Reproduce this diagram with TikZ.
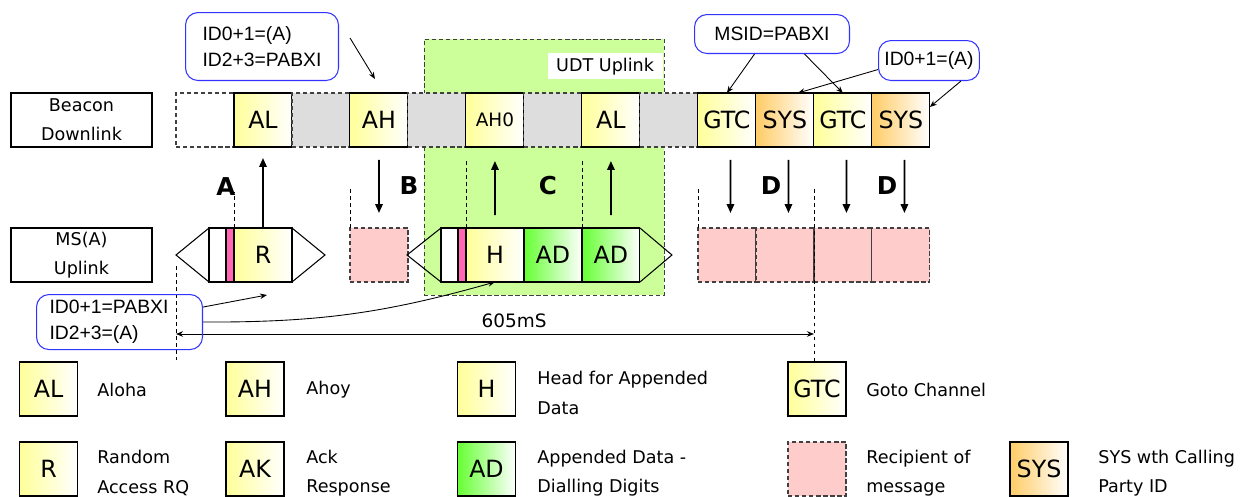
\documentclass[tikz,border=0pt]{standalone}
\usepackage{fontspec}
\setmainfont{DejaVu Sans}
\newfontfamily\notefont{Liberation Sans}
\usetikzlibrary{arrows.meta,positioning,calc}
\definecolor{slotyellow}{HTML}{FFFF99}
\definecolor{slotorange}{HTML}{FFCC66}
\definecolor{slotgreen}{HTML}{66FF33}
\definecolor{recippink}{HTML}{FFCCCC}
\definecolor{stripink}{HTML}{FF66B3}
\definecolor{gapgray}{HTML}{DDDDDD}
\definecolor{udtgreen}{HTML}{CCFF99}
\definecolor{noteblue}{HTML}{3333FF}
\definecolor{dashgray}{HTML}{404040}

\begin{document}
\begin{tikzpicture}[
    x=0.02cm, y=-0.02cm,
    every node/.style={font=\fontsize{10}{16.7}\selectfont},
    dashline/.style={dash pattern=on 2.5pt off 1.5pt},
    slot/.style={draw, line width=0.6pt, minimum width=1.16cm, minimum height=1.08cm, inner sep=0pt, outer sep=0pt, font=\fontsize{13.5}{15}\selectfont},
    slotyel/.style={slot, left color=slotyellow, right color=white},
    slotorg/.style={slot, left color=slotorange, right color=white},
    slotgrn/.style={slot, left color=slotgreen, right color=white},
    gapslot/.style={slot, draw=dashgray, dashline, fill=gapgray},
    emptyslot/.style={slot, draw=dashgray, dashline, fill=white},
    recip/.style={slot, draw=dashgray, dashline, fill=recippink},
    whitecell/.style={draw, line width=0.6pt, fill=white, minimum width=0.34cm, minimum height=1.08cm, inner sep=0pt, outer sep=0pt},
    pinkcell/.style={whitecell, fill=stripink, minimum width=0.16cm},
    pkt/.style={line width=0.6pt},
    rowlabel/.style={draw, line width=0.6pt, minimum width=2.82cm, minimum height=1.08cm, align=center, inner sep=0pt},
    zone/.style={draw=dashgray, dashline, fill=udtgreen, minimum width=4.8cm, minimum height=5.12cm, inner sep=0pt, outer sep=0pt},
    zonetag/.style={fill=white, minimum width=2.3cm, minimum height=0.52cm, inner sep=0pt, font=\fontsize{10}{12}\selectfont},
    callout/.style={draw=noteblue, line width=0.6pt, rounded corners=0.25cm, align=left, font=\notefont\fontsize{11}{14.7}\selectfont},
    letter/.style={font=\fontsize{14}{16}\selectfont\bfseries},
    legtext/.style={anchor=west, align=left, inner sep=0pt},
    sig/.style={-{Triangle[length=1.8mm,width=1.5mm]}, line width=1pt},
    note/.style={-{Stealth[length=1.4mm,width=1.1mm]}, line width=0.5pt},
    spanline/.style={{Stealth[length=1.4mm,width=1.1mm]}-{Stealth[length=1.4mm,width=1.1mm]}, line width=0.5pt},
    guide/.style={line width=0.5pt, dash pattern=on 2pt off 2pt}
]
\useasboundingbox (0,0) rectangle (1242,497);

% UDT uplink zone (behind everything)
\node[zone, anchor=north west] (udt) at (424,39) {};
\node[zonetag, anchor=north east] (udttag) at ([shift={(-1,14)}]udt.north east) {UDT Uplink};

% row labels
\node[rowlabel] (beacon) at (81.5,120) {Beacon\\Downlink};
\node[rowlabel] (msrow) at (81.5,255) {MS(A)\\Uplink};

% beacon downlink
\node[emptyslot, anchor=north west] (dl0) at (176,93) {};
\node[slotyel, right=0pt of dl0] (dlAL) {AL};
\node[gapslot, right=0pt of dlAL] (gap1) {};
\node[slotyel, right=0pt of gap1] (dlAH) {AH};
\node[gapslot, right=0pt of dlAH] (gap2) {};
\node[slotyel, right=0pt of gap2, font=\fontsize{10.5}{12}\selectfont] (dlAH0) {AH0};
\node[gapslot, right=0pt of dlAH0] (gap3) {};
\node[slotyel, right=0pt of gap3] (dlAL2) {AL};
\node[gapslot, right=0pt of dlAL2] (gap4) {};
\node[slotyel, right=0pt of gap4] (gtcA) {GTC};
\node[slotorg, right=0pt of gtcA] (sysA) {SYS};
\node[slotyel, right=0pt of sysA] (gtcB) {GTC};
\node[slotorg, right=0pt of gtcB] (sysB) {SYS};

% MS(A) uplink: random access packet
\node[whitecell, anchor=north west] (cellA) at (209,228) {};
\node[pinkcell, right=0pt of cellA] (stripA) {};
\node[slotyel, right=0pt of stripA] (rq) {R};
\draw[pkt] (cellA.north west) -- ([xshift=-0.66cm]cellA.west) coordinate (tipA) -- (cellA.south west);
\draw[pkt] (rq.north east) -- ([xshift=0.66cm]rq.east) -- (rq.south east);

% recipient of AH
\node[recip, anchor=north west] (recpB) at (350,228) {};

% head + appended data packet
\node[whitecell, anchor=north west] (cellC) at (441,228) {};
\node[pinkcell, right=0pt of cellC] (stripC) {};
\node[slotyel, right=0pt of stripC] (hd) {H};
\node[slotgrn, right=0pt of hd] (adA) {AD};
\node[slotgrn, right=0pt of adA] (adB) {AD};
\draw[pkt] (cellC.north west) -- ([xshift=-0.68cm]cellC.west) -- (cellC.south west);
\draw[pkt] (adB.north east) -- ([xshift=0.64cm]adB.east) -- (adB.south east);

% recipients of GTC / SYS
\node[recip, anchor=north west] (recpD1) at (698,228) {};
\node[recip, right=0pt of recpD1] (recpD2) {};
\node[recip, right=0pt of recpD2] (recpD3) {};
\node[recip, right=0pt of recpD3] (recpD4) {};

% guide lines
\draw[guide] (rq.north west) -- (rq.north west |- 0,192);
\draw[guide] (tipA |- 0,266) -- (tipA |- 0,360);
\draw[guide] (recpB.north west) -- (recpB.north west |- 0,187);
\draw[guide] (hd.north west) -- (hd.north west |- 0,159);
\draw[guide] (adB.north west) -- (adB.north west |- 0,159);
\draw[guide] (recpD1.north west) -- (recpD1.north west |- 0,189);
\draw[guide] (recpD3.north west |- 0,189) -- (recpD3.north west |- 0,364);

% signalling
\draw[sig, shorten >=0.22cm] (rq.north) -- (dlAL.south);
\draw[sig, shorten <=0.26cm, shorten >=0.3cm] (dlAH.south) -- (recpB.north);
\draw[sig, shorten <=0.26cm, shorten >=0.28cm] (hd.north) -- (dlAH0.south);
\draw[sig, shorten <=0.26cm, shorten >=0.28cm] (adB.north) -- (dlAL2.south);
\foreach \s/\r in {gtcA/recpD1, sysA/recpD2, gtcB/recpD3, sysB/recpD4}
  \draw[sig, shorten <=0.26cm, shorten >=0.3cm] ([xshift=2pt]\s.south) -- ([xshift=2pt]\r.north);

\node[letter] (lblA) at (226,187) {A};
\node[letter] (lblB) at (409,186) {B};
\node[letter] (lblC) at (548,186) {C};
\node[letter] (lblD1) at (771,186) {D};
\node[letter] (lblD2) at (887,186) {D};

% 605mS span
\coordinate (spanL) at (tipA |- 0,334);
\coordinate (spanR) at (recpD3.north west |- 0,334);
\draw[spanline] (spanL) -- node[pos=0.53, above=0pt, font=\fontsize{10.5}{12}\selectfont] (spanlbl) {605mS} (spanR);

% callouts
\node[callout, anchor=north west, minimum width=3.06cm, minimum height=1.36cm] (noteAH) at (185,12) {ID0+1=(A)\\ID2+3=PABXI};
\node[callout, anchor=north west, minimum width=3.1cm, minimum height=0.78cm] (msid) at (694,14) {MSID=PABXI};
\node[callout, anchor=north west, minimum width=2cm, minimum height=0.8cm] (idsys) at (878,40) {ID0+1=(A)};
\node[callout, anchor=north west, minimum height=1.08cm, text width=2.8cm, inner xsep=0.26cm] (noteMS) at (36,294) {ID0+1=PABXI\\ID2+3=(A)};

\draw[note] ([shift={(11,26)}]noteAH.north east) -- ([shift={(-4,-14)}]dlAH.north);
\draw[note] ([xshift=-0.35cm]msid.south) -- (gtcA.north);
\draw[note] ([xshift=0.65cm]msid.south) -- (gtcB.north);
\draw[note] ([yshift=-0.18cm]idsys.west) -- ([xshift=0.26cm]sysA.north);
\draw[note] ([xshift=0.64cm]idsys.south) -- ([yshift=0.26cm]sysB.east);
\draw[note] ([yshift=0.3cm]noteMS.east) -- ([shift={(4,13)}]rq.south);
\draw[note] (noteMS.east) to[bend right=8] (hd.south);

% legend
\node[slotyel] (kAL) at (48.5,389) {AL};
\node[legtext] (tAL) at (97,390) {Aloha};
\node[slotyel] (kAH) at (255,389) {AH};
\node[legtext] (tAH) at (306,390) {Ahoy};
\node[slotyel] (kH) at (486.5,389) {H};
\node[legtext] (tH) at (537,393) {Head for Appended\\Data};
\node[slotyel] (kGTC) at (817,389) {GTC};
\node[legtext] (tGTC) at (866,390) {Goto Channel};
\node[slotyel] (kR) at (48.5,469) {R};
\node[legtext] (tR) at (97,473) {Random\\Access RQ};
\node[slotyel] (kAK) at (255,469) {AK};
\node[legtext] (tAK) at (306,473) {Ack\\Response};
\node[slotgrn] (kAD) at (486.5,469) {AD};
\node[legtext] (tAD) at (537,473) {Appended Data -\\Dialling Digits};
\node[recip] (kRecip) at (817,469) {};
\node[legtext] (tRecip) at (866,473) {Recipient of\\message};
\node[slotorg] (kSYS) at (1039,469) {SYS};
\node[legtext] (tSYS) at (1098,473) {SYS wth Calling\\Party ID};
\end{tikzpicture}
\end{document}
